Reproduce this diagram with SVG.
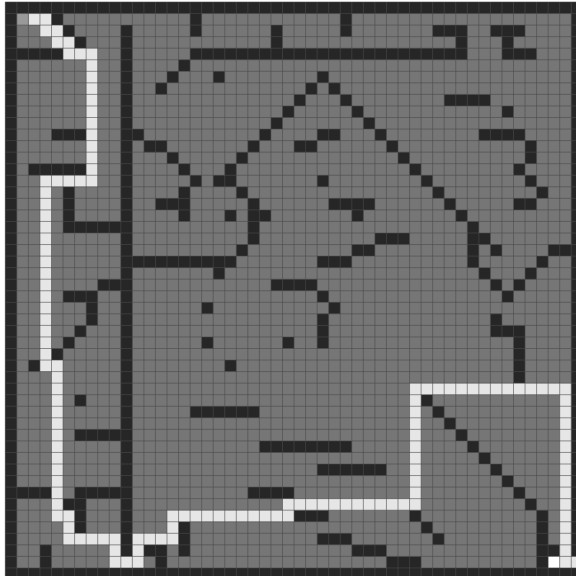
<svg xmlns="http://www.w3.org/2000/svg" width="576" height="576" viewBox="0 0 576 576">
<style>
.cells{fill:none;stroke-width:1}
.dark{stroke:#262626}
.path{stroke:#e6e6e6}
.grid{fill:none;stroke:#4b4b4b;stroke-opacity:.6;stroke-width:.085}
</style>
<rect width="576" height="576" fill="#fff"/>
<g id="maze" transform="translate(5.3 2) scale(11.55)">
<rect id="floor" width="50" height="50" fill="#767676"/>
<path id="walls" class="cells dark" d="M0 .5h50
M0 1.5h1M4 1.5h1M16 1.5h1M29 1.5h1M49 1.5h1
M0 2.5h1M5 2.5h1M10 2.5h1M16 2.5h1M23 2.5h1M29 2.5h1M37 2.5h3M42 2.5h3M49 2.5h1
M0 3.5h1M6 3.5h1M10 3.5h1M23 3.5h1M39 3.5h1M43 3.5h1M49 3.5h1
M0 4.5h5M10 4.5h1M16 4.5h24M43 4.5h3M49 4.5h1
M0 5.5h1M10 5.5h1M15 5.5h1M49 5.5h1
M0 6.5h1M10 6.5h1M14 6.5h1M18 6.5h1M27 6.5h1M49 6.5h1
M0 7.5h1M10 7.5h1M13 7.5h1M26 7.5h1M28 7.5h1M49 7.5h1
M0 8.5h1M10 8.5h1M25 8.5h1M29 8.5h1M38 8.5h4M49 8.5h1
M0 9.5h1M10 9.5h1M24 9.5h1M30 9.5h1M43 9.5h1M49 9.5h1
M0 10.5h1M10 10.5h1M23 10.5h1M31 10.5h1M49 10.5h1
M0 11.5h1M4 11.5h3M10 11.5h2M22 11.5h1M27 11.5h2M32 11.5h1M41 11.5h4M49 11.5h1
M0 12.5h1M10 12.5h1M12 12.5h2M21 12.5h1M25 12.5h2M33 12.5h1M45 12.5h1M49 12.5h1
M0 13.5h1M10 13.5h1M14 13.5h1M20 13.5h1M34 13.5h1M45 13.5h1M49 13.5h1
M0 14.5h1M2 14.5h5M10 14.5h1M15 14.5h1M19 14.5h1M35 14.5h1M44 14.5h1M49 14.5h1
M0 15.5h1M10 15.5h1M16 15.5h1M18 15.5h2M27 15.5h1M36 15.5h1M45 15.5h1M49 15.5h1
M0 16.5h1M5 16.5h1M10 16.5h1M15 16.5h1M20 16.5h1M37 16.5h1M46 16.5h1M49 16.5h1
M0 17.5h1M5 17.5h1M10 17.5h1M13 17.5h3M21 17.5h1M28 17.5h4M38 17.5h1M44 17.5h2M49 17.5h1
M0 18.5h1M5 18.5h1M10 18.5h1M15 18.5h1M19 18.5h1M21 18.5h2M30 18.5h1M39 18.5h1M49 18.5h1
M0 19.5h1M5 19.5h6M21 19.5h1M40 19.5h1M49 19.5h1
M0 20.5h1M10 20.5h1M21 20.5h1M32 20.5h3M40 20.5h2M49 20.5h1
M0 21.5h1M10 21.5h1M20 21.5h1M30 21.5h2M40 21.5h1M42 21.5h1M47 21.5h3
M0 22.5h1M10 22.5h10M27 22.5h3M40 22.5h1M46 22.5h1M49 22.5h1
M0 23.5h1M10 23.5h1M18 23.5h1M41 23.5h1M45 23.5h1M49 23.5h1
M0 24.5h1M8 24.5h3M23 24.5h4M42 24.5h1M44 24.5h1M49 24.5h1
M0 25.5h1M5 25.5h3M10 25.5h1M27 25.5h1M43 25.5h1M49 25.5h1
M0 26.5h1M7 26.5h1M10 26.5h1M17 26.5h1M28 26.5h1M49 26.5h1
M0 27.5h1M7 27.5h1M10 27.5h1M27 27.5h1M42 27.5h1M49 27.5h1
M0 28.5h1M6 28.5h1M10 28.5h1M27 28.5h1M42 28.5h3M49 28.5h1
M0 29.5h1M5 29.5h1M10 29.5h1M17 29.5h1M24 29.5h1M27 29.5h1M44 29.5h1M49 29.5h1
M0 30.5h1M4 30.5h1M10 30.5h1M44 30.5h1M49 30.5h1
M0 31.5h1M2 31.5h1M10 31.5h1M19 31.5h1M44 31.5h1M49 31.5h1
M0 32.5h1M10 32.5h1M44 32.5h1M49 32.5h1
M0 33.5h1M10 33.5h1M49 33.5h1
M0 34.5h1M6 34.5h1M10 34.5h1M36 34.5h1M49 34.5h1
M0 35.5h1M10 35.5h1M16 35.5h6M37 35.5h1M49 35.5h1
M0 36.5h1M10 36.5h1M38 36.5h1M49 36.5h1
M0 37.5h1M6 37.5h5M39 37.5h1M49 37.5h1
M0 38.5h1M10 38.5h1M22 38.5h8M40 38.5h1M49 38.5h1
M0 39.5h1M10 39.5h1M41 39.5h1M49 39.5h1
M0 40.5h1M10 40.5h1M27 40.5h6M42 40.5h1M49 40.5h1
M0 41.5h1M10 41.5h1M43 41.5h1M49 41.5h1
M0 42.5h4M6 42.5h5M21 42.5h4M44 42.5h1M49 42.5h1
M0 43.5h1M5 43.5h2M10 43.5h1M45 43.5h1M49 43.5h1
M0 44.5h1M6 44.5h1M10 44.5h1M25 44.5h3M35 44.5h1M46 44.5h1M49 44.5h1
M0 45.5h1M6 45.5h1M10 45.5h1M15 45.5h1M36 45.5h1M46 45.5h1M49 45.5h1
M0 46.5h1M10 46.5h1M15 46.5h1M27 46.5h3M37 46.5h1M46 46.5h1M49 46.5h1
M0 47.5h1M3 47.5h1M10 47.5h1M12 47.5h2M15 47.5h1M30 47.5h3M46 47.5h2M49 47.5h1
M0 48.5h1M3 48.5h1M13 48.5h1M33 48.5h3M46 48.5h1
M0 49.5h50"/>
<path id="route" class="cells path" d="M2 1.5h2M3 2.5h2M4 3.5h2M5 4.5h3
M7.5 5v10M3 15.5h5M3.5 16v15M3 31.5h2M4.5 32v12M4 44.5h2M5.5 45v1M5 46.5h5M9.5 47v1M9 48.5h3M11.5 47v1M11 46.5h4M14.5 45v1M14 44.5h11
M24 43.5h12M35.5 33v10M35 33.5h14M48.5 34v14M48 48.5h2"/>
<rect id="start" x="1" y="1" width="1" height="1" fill="#999"/>
<rect id="goal" x="47" y="48" width="1" height="1" fill="#fff"/>
<path id="gridlines" class="grid" d="M0 0V50M1 0V50M2 0V50M3 0V50M4 0V50M5 0V50M6 0V50M7 0V50M8 0V50M9 0V50M10 0V50M11 0V50M12 0V50M13 0V50M14 0V50M15 0V50M16 0V50M17 0V50M18 0V50M19 0V50M20 0V50M21 0V50M22 0V50M23 0V50M24 0V50M25 0V50M26 0V50M27 0V50M28 0V50M29 0V50M30 0V50M31 0V50M32 0V50M33 0V50M34 0V50M35 0V50M36 0V50M37 0V50M38 0V50M39 0V50M40 0V50M41 0V50M42 0V50M43 0V50M44 0V50M45 0V50M46 0V50M47 0V50M48 0V50M49 0V50
M0 0H50M0 1H50M0 2H50M0 3H50M0 4H50M0 5H50M0 6H50M0 7H50M0 8H50M0 9H50M0 10H50M0 11H50M0 12H50M0 13H50M0 14H50M0 15H50M0 16H50M0 17H50M0 18H50M0 19H50M0 20H50M0 21H50M0 22H50M0 23H50M0 24H50M0 25H50M0 26H50M0 27H50M0 28H50M0 29H50M0 30H50M0 31H50M0 32H50M0 33H50M0 34H50M0 35H50M0 36H50M0 37H50M0 38H50M0 39H50M0 40H50M0 41H50M0 42H50M0 43H50M0 44H50M0 45H50M0 46H50M0 47H50M0 48H50M0 49H50"/>
</g>
</svg>
